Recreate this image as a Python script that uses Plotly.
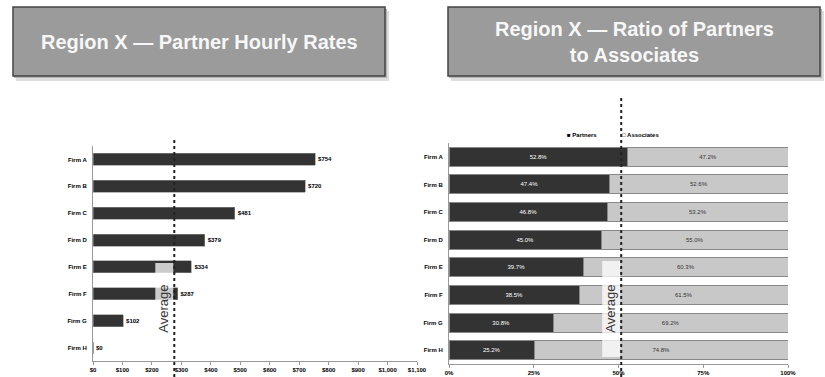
import plotly.graph_objects as go

W, H = 825, 377

# ---- data ----
firms = ["Firm A", "Firm B", "Firm C", "Firm D", "Firm E", "Firm F", "Firm G", "Firm H"]
hourly_rates = [754, 720, 481, 379, 334, 287, 102, 0]
rate_average = 276
rate_ticks = list(range(0, 1200, 100))
rate_ticktext = ["$0", "$100", "$200", "$300", "$400", "$500", "$600", "$700",
                 "$800", "$900", "$1,000", "$1,100"]

partners_pct = [52.8, 47.4, 46.8, 45.0, 39.7, 38.5, 30.8, 25.2]
associates_pct = [47.2, 52.6, 53.2, 55.0, 60.3, 61.5, 69.2, 74.8]
ratio_average = 50.8
pct_ticks = [0, 25, 50, 75, 100]
pct_ticktext = ["0%", "25%", "50%", "75%", "100%"]

left_title = "Region X \u2014 Partner Hourly Rates"
right_title = "Region X \u2014 Ratio of Partners<br>to Associates"


def px(x):
    return x / W


def py(y):
    return 1 - y / H


DARK = "#333333"
LIGHT = "#c8c8c8"
AXIS = "#999999"
FONT = "Liberation Sans, Arial, sans-serif"

fig = go.Figure()

# left chart
fig.add_trace(go.Bar(
    y=firms, x=hourly_rates, orientation="h", xaxis="x", yaxis="y",
    marker=dict(color=DARK, line=dict(color="#888888", width=0.6)),
    width=0.45,
    text=[f"${v}" for v in hourly_rates], textposition="outside",
    textfont=dict(size=6, color="black", family=FONT, weight="bold"),
    cliponaxis=False, showlegend=False, hoverinfo="skip",
))

# right chart
fig.add_trace(go.Bar(
    y=firms, x=partners_pct, orientation="h", xaxis="x2", yaxis="y2",
    name="Partners",
    marker=dict(color=DARK, line=dict(color="#888888", width=1)),
    width=0.69,
    text=[f"{v:.1f}%" for v in partners_pct], textposition="inside",
    insidetextanchor="middle", textangle=0,
    textfont=dict(size=6, color="white", family=FONT),
    showlegend=False, hoverinfo="skip",
))
fig.add_trace(go.Bar(
    y=firms, x=associates_pct, orientation="h", xaxis="x2", yaxis="y2",
    name="Associates",
    marker=dict(color=LIGHT, line=dict(color="#888888", width=1)),
    width=0.69,
    text=[f"{v:.1f}%" for v in associates_pct], textposition="inside",
    insidetextanchor="middle", textangle=0,
    textfont=dict(size=6, color="#333333", family=FONT),
    showlegend=False, hoverinfo="skip",
))

tickfont = dict(size=6, color="black", family=FONT, weight="bold")

fig.update_layout(
    width=W, height=H, autosize=False,
    margin=dict(l=0, r=0, t=0, b=0, pad=0, autoexpand=False),
    paper_bgcolor="white", plot_bgcolor="white",
    barmode="stack",
    showlegend=False,
    font=dict(family=FONT),
    xaxis=dict(domain=[px(93), px(417)], range=[0, 1100], anchor="y",
               tickvals=rate_ticks, ticktext=rate_ticktext, tickfont=tickfont,
               showgrid=False, zeroline=False, showline=True, linecolor=AXIS,
               linewidth=1, ticks="outside", ticklen=3, tickcolor=AXIS,
               automargin=False),
    yaxis=dict(domain=[py(361), py(146)], anchor="x", autorange="reversed",
               tickfont=tickfont, showgrid=False, showline=True,
               linecolor=AXIS, linewidth=1, ticks="", ticklabelstandoff=4,
               automargin=False),
    xaxis2=dict(domain=[px(449), px(788)], range=[0, 100], anchor="y2",
                tickvals=pct_ticks, ticktext=pct_ticktext, tickfont=tickfont,
                showgrid=False, zeroline=False, showline=True, linecolor=AXIS,
                linewidth=1, ticks="outside", ticklen=3, tickcolor=AXIS,
                automargin=False),
    yaxis2=dict(domain=[py(364), py(143)], anchor="x2", autorange="reversed",
                tickfont=tickfont, showgrid=False, showline=True,
                linecolor=AXIS, linewidth=1, ticks="", ticklabelstandoff=4,
                automargin=False),
)

shapes = []
annotations = []

# title boxes with shadow
for (x0, x1, txt, ty) in [(13, 385, left_title, 42), (448, 820, right_title, 42)]:
    shapes.append(dict(type="rect", xref="paper", yref="paper",
                       x0=px(x0 + 3), x1=px(x1 + 4), y0=py(76 + 5), y1=py(7 + 4),
                       fillcolor="#dddddd", line=dict(width=0), layer="below"))
    shapes.append(dict(type="rect", xref="paper", yref="paper",
                       x0=px(x0 + 1), x1=px(x1 + 2), y0=py(76 + 2), y1=py(7 + 2),
                       fillcolor="#b5b5b5", line=dict(width=0), layer="below"))
    shapes.append(dict(type="rect", xref="paper", yref="paper",
                       x0=px(x0), x1=px(x1), y0=py(76), y1=py(7),
                       fillcolor="#9b9b9b", line=dict(color="#444444", width=1.5),
                       layer="below"))
    annotations.append(dict(xref="paper", yref="paper", x=px((x0 + x1) / 2), y=py(ty),
                            xanchor="center", yanchor="middle",
                            text=f"<b>{txt}</b>", showarrow=False,
                            font=dict(size=20, color="#f7f7f7", family=FONT)))

# average lines and labels
for (xr, avg, top, span, domain_px, box_top, box_bot) in [
        ("x", rate_average, 140, 1100, 417 - 93, 263, 356),
        ("x2", ratio_average, 98, 100, 788 - 449, 261, 357)]:
    unit = span / domain_px
    shapes.append(dict(type="rect", xref=xr, yref="paper",
                       x0=avg - 19 * unit, x1=avg - 1 * unit,
                       y0=py(box_bot), y1=py(box_top),
                       fillcolor="rgba(255,255,255,0.75)", line=dict(width=0),
                       layer="above"))
    shapes.append(dict(type="line", xref=xr, yref="paper", x0=avg, x1=avg,
                       y0=0, y1=py(top), line=dict(color="#222222", width=2, dash="dot"),
                       layer="above"))
    annotations.append(dict(xref=xr, yref="paper", x=avg, y=py(309),
                            xanchor="right", yanchor="middle", xshift=-2,
                            text="Average", textangle=-90, showarrow=False,
                            font=dict(size=13, color="#333333", family=FONT)))

# legend for right chart
annotations.append(dict(xref="paper", yref="paper", x=px(565), y=py(135),
                        xanchor="left", yanchor="middle", showarrow=False,
                        text="<b>\u25a0 Partners</b>",
                        font=dict(size=6, color="black", family=FONT)))
annotations.append(dict(xref="paper", yref="paper", x=px(620), y=py(135),
                        xanchor="left", yanchor="middle", showarrow=False,
                        text="<b>\u25a1 Associates</b>",
                        font=dict(size=6, color="black", family=FONT)))

fig.update_layout(shapes=shapes, annotations=annotations)

fig.write_html("out.html")
